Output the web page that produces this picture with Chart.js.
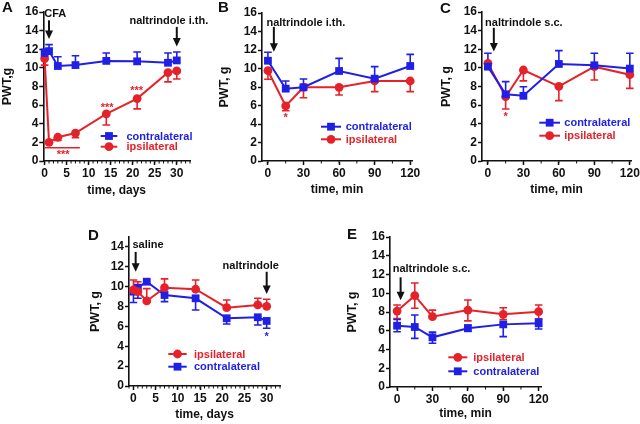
<!DOCTYPE html>
<html>
<head>
<meta charset="utf-8">
<script src="https://cdn.jsdelivr.net/npm/chart.js@4.4.1/dist/chart.umd.min.js"></script>
<style>
  html, body { margin: 0; padding: 0; background: #fff; }
  #wrap { position: relative; width: 640px; height: 424px; }
  #wrap canvas { position: absolute; left: 0; top: 0; }
</style>
</head>
<body>
<div id="wrap">
  <canvas id="panelA" width="640" height="424"></canvas>
  <canvas id="panelB" width="640" height="424"></canvas>
  <canvas id="panelC" width="640" height="424"></canvas>
  <canvas id="panelD" width="640" height="424"></canvas>
  <canvas id="panelE" width="640" height="424"></canvas>
</div>
<script>
const FONT = "'Liberation Sans', Arial, Helvetica, sans-serif";
const BLUE = '#1f1fe6';
const RED = '#e5222a';
const BLACK = '#111';

// A - CFA time course (days)
const aDays = [0, 1, 3, 7, 14, 21, 28, 30];
const aContra = [11.6, 11.8, 10.2, 10.3, 10.75, 10.7, 10.55, 10.8];
const aContraHi = [12.0, 12.5, 11.2, 11.3, 11.6, 11.7, 11.6, 11.7];
const aIpsi = [11.0, 2.0, 2.55, 3.0, 5.05, 6.7, 9.5, 9.67];
const aIpsiLo = [10.3, null, 2.2, 2.5, 3.87, 5.6, 8.5, 8.8];

// B - naltrindole i.th. (min)
const bMin = [0, 15, 30, 60, 90, 120];
const bContra = [10.84, 7.82, 7.97, 9.73, 8.9, 10.27];
const bContraHi = [11.75, 8.65, 8.86, 11.1, 10.2, 11.53];
const bIpsi = [9.76, 5.95, 7.97, 7.97, 8.65, 8.65];
const bIpsiLo = [8.83, 5.44, 6.84, 7.14, 7.5, 7.5];

// C - naltrindole s.c. (min)
const cMin = [0, 15, 30, 60, 90, 120];
const cContra = [10.13, 7.16, 7.0, 10.42, 10.28, 9.92];
const cContraHi = [11.57, 8.52, 7.98, 11.85, 11.57, 11.57];
const cIpsi = [10.49, 6.9, 9.77, 8.02, 10.13, 9.27];
const cIpsiLo = [null, 5.58, 8.6, 6.48, 8.7, 7.8];

// D - saline time course (days)
const dDays = [0, 1, 3, 7, 14, 21, 28, 30];
const dIpsi = [9.67, 9.5, 8.56, 9.9, 9.74, 7.89, 8.16, 8.02];
const dIpsiHi = [10.67, 10.5, 9.8, 10.78, 10.67, 8.66, 8.83, 8.73];
const dContra = [9.5, 9.9, 10.5, 9.16, 8.83, 6.82, 6.92, 6.55];
const dContraLo = [8.4, 8.83, null, 8.49, 7.65, 6.24, 6.14, 5.81];

// E - naltrindole s.c. after saline (min)
const eMin = [0, 15, 30, 60, 90, 120];
const eIpsi = [8.1, 9.74, 7.5, 8.2, 7.75, 8.03];
const eIpsiHi = [8.75, 11.1, 8.2, 9.28, 8.46, 8.75];
const eIpsiLo = [7.3, 8.4, null, 7.05, 7.2, 7.25];
const eContra = [6.54, 6.4, 5.3, 6.26, 6.68, 6.79];
const eContraHi = [7.2, 7.68, 5.85, 6.6, null, 7.25];
const eContraLo = [5.9, 5.19, 4.66, 5.97, 5.37, 6.19];

const contra = (x, y, hi, lo) => ({label: 'contralateral', color: BLUE, style: 'rect', x, y, hi, lo});
const ipsi = (x, y, hi, lo) => ({label: 'ipsilateral', color: RED, style: 'circle', x, y, hi, lo});

function drawErrorBars(chart) {
  const ctx = chart.ctx;
  const xs = chart.scales.x, ys = chart.scales.y;
  chart.data.datasets.forEach(ds => {
    ctx.save();
    ctx.strokeStyle = ds.borderColor;
    ctx.lineWidth = 1.6;
    ds.data.forEach((p, i) => {
      const px = xs.getPixelForValue(p.x);
      const py = ys.getPixelForValue(p.y);
      [ds.errHi, ds.errLo].forEach(arr => {
        if (!arr || arr[i] == null) return;
        const ey = ys.getPixelForValue(arr[i]);
        ctx.beginPath();
        ctx.moveTo(px, py);
        ctx.lineTo(px, ey);
        ctx.moveTo(px - 3.8, ey);
        ctx.lineTo(px + 3.8, ey);
        ctx.stroke();
      });
    });
    ctx.restore();
  });
}

function drawMarker(ctx, style, x, y, color) {
  ctx.fillStyle = color;
  ctx.beginPath();
  if (style === 'rect') ctx.rect(x - 3.9, y - 3.9, 7.8, 7.8);
  else ctx.arc(x, y, 4.4, 0, Math.PI * 2);
  ctx.fill();
}

function decoPlugin(p) {
  return {
    id: 'deco',
    beforeDatasetsDraw(chart) { drawErrorBars(chart); },
    afterDraw(chart) {
      const ctx = chart.ctx;
      const xs = chart.scales.x, ys = chart.scales.y;
      ctx.save();

      // minor ticks on x axis
      ctx.strokeStyle = BLACK;
      ctx.lineWidth = 1;
      const base = chart.chartArea.bottom;
      for (let v = Math.ceil(xs.min / p.minor) * p.minor; v <= xs.max; v += p.minor) {
        const px = xs.getPixelForValue(v);
        ctx.beginPath();
        ctx.moveTo(px, base);
        ctx.lineTo(px, base + 2.5);
        ctx.stroke();
      }

      // arrows
      ctx.fillStyle = BLACK;
      ctx.strokeStyle = BLACK;
      (p.arrows || []).forEach(a => {
        const px = xs.getPixelForValue(a.x);
        const y1 = ys.getPixelForValue(a.y1);
        const y2 = ys.getPixelForValue(a.y2);
        ctx.lineWidth = 2;
        ctx.beginPath();
        ctx.moveTo(px, y1);
        ctx.lineTo(px, y2 - 6);
        ctx.stroke();
        ctx.beginPath();
        ctx.moveTo(px - 4, y2 - 8.5);
        ctx.lineTo(px + 4, y2 - 8.5);
        ctx.lineTo(px, y2);
        ctx.closePath();
        ctx.fill();
      });

      // significance bars
      (p.bars || []).forEach(b => {
        ctx.strokeStyle = b.color;
        ctx.lineWidth = 1.5;
        ctx.beginPath();
        ctx.moveTo(xs.getPixelForValue(b.x1), ys.getPixelForValue(b.y));
        ctx.lineTo(xs.getPixelForValue(b.x2), ys.getPixelForValue(b.y));
        ctx.stroke();
      });

      // text notes
      ctx.textAlign = 'center';
      ctx.textBaseline = 'middle';
      (p.notes || []).forEach(n => {
        ctx.fillStyle = n.color || BLACK;
        ctx.font = 'bold ' + (n.size || 11) + 'px ' + FONT;
        ctx.fillText(n.text, xs.getPixelForValue(n.x), ys.getPixelForValue(n.y));
      });

      // legend
      const lg = p.legend;
      ctx.font = 'bold 11px ' + FONT;
      ctx.textAlign = 'left';
      lg.rows.forEach(r => {
        const s = p.series[r.s];
        ctx.strokeStyle = s.color;
        ctx.lineWidth = 2;
        ctx.beginPath();
        ctx.moveTo(lg.x1, r.y);
        ctx.lineTo(lg.x2, r.y);
        ctx.stroke();
        drawMarker(ctx, s.style, (lg.x1 + lg.x2) / 2, r.y, s.color);
        ctx.fillStyle = s.color;
        ctx.fillText(s.label, lg.tx, r.y + 0.5);
      });

      // panel letter
      ctx.fillStyle = BLACK;
      ctx.font = 'bold 15px ' + FONT;
      ctx.fillText(p.letter.text, p.letter.x, p.letter.y);
      ctx.restore();
    }
  };
}

function makePanel(id, p) {
  const lhY = 12.5 * 1.2, lhX = 12 * 1.2;
  const padL = p.yTitleX - lhY / 2;
  const padB = 424 - p.xTitleY - lhX / 2;
  const yW = p.area.l - padL;
  const xH = 424 - padB - p.area.b;
  const tickFont = {family: FONT, size: 12, weight: 'bold'};

  const datasets = p.series.map(s => ({
    label: s.label,
    data: s.x.map((x, i) => ({x: x, y: s.y[i]})),
    errHi: s.hi,
    errLo: s.lo,
    borderColor: s.color,
    backgroundColor: s.color,
    borderWidth: 2,
    pointStyle: s.style,
    pointRadius: s.style === 'rect' ? 5.5 : 4.4,
    pointBorderWidth: 0,
    clip: false
  }));

  return new Chart(document.getElementById(id), {
    type: 'line',
    data: {datasets: datasets},
    options: {
      responsive: false,
      animation: false,
      events: [],
      layout: {padding: {left: padL, top: p.area.t, right: 640 - p.area.r, bottom: padB}},
      plugins: {legend: {display: false}, tooltip: {enabled: false}},
      scales: {
        x: {
          type: 'linear',
          min: p.xMin,
          max: p.xMax,
          ticks: {stepSize: p.xStep, includeBounds: false, color: BLACK, font: tickFont, padding: 1, maxRotation: 0, autoSkip: false},
          grid: {drawOnChartArea: false, drawTicks: true, tickLength: 4, tickWidth: 1.5, tickColor: BLACK},
          border: {display: true, color: BLACK, width: 1.6},
          title: {display: true, text: p.xTitle, color: BLACK, font: {family: FONT, size: 12, weight: 'bold'}, padding: 0},
          afterFit: s => { s.height = xH; s.paddingLeft = 0; s.paddingRight = 0; }
        },
        y: {
          min: 0,
          max: p.yMax,
          ticks: {stepSize: 2, includeBounds: false, color: BLACK, font: tickFont, padding: 1},
          grid: {drawOnChartArea: false, drawTicks: true, tickLength: 4, tickWidth: 1.5, tickColor: BLACK},
          border: {display: true, color: BLACK, width: 1.6},
          title: {display: true, text: p.yTitle, color: BLACK, font: {family: FONT, size: 12.5, weight: 'bold'}, padding: 0},
          afterFit: s => { s.width = yW; s.paddingTop = 0; s.paddingBottom = 0; }
        }
      }
    },
    plugins: [decoPlugin(p)]
  });
}

// Panel A
const seriesA = [contra(aDays, aContra, aContraHi, null), ipsi(aDays, aIpsi, null, aIpsiLo)];
makePanel('panelA', {
  area: {l: 43.3, t: 12, r: 190, b: 161}, yTitleX: 8, xTitleY: 191,
  xMin: -0.3, xMax: 33, xStep: 5, minor: 1, yMax: 16,
  yTitle: 'PWT,g', xTitle: 'time, days',
  series: seriesA,
  legend: {x1: 100.7, x2: 117.3, tx: 126.5, rows: [{s: 0, y: 136}, {s: 1, y: 146.7}]},
  notes: [
    {text: 'CFA', x: 2.4, y: 15.8},
    {text: 'naltrindole i.th.', x: 28.2, y: 15.0},
    {text: '***', x: 14.2, y: 5.7, color: RED},
    {text: '***', x: 20.9, y: 7.5, color: RED},
    {text: '***', x: 4.2, y: 0.65, color: RED}
  ],
  bars: [{x1: 0, x2: 8, y: 1.43, color: RED}],
  arrows: [{x: 1, y1: 15.1, y2: 13.1}, {x: 30, y1: 14.4, y2: 12.3}],
  letter: {text: 'A', x: 2, y: 8}
});

// Panel B
const seriesB = [contra(bMin, bContra, bContraHi, null), ipsi(bMin, bIpsi, null, bIpsiLo)];
makePanel('panelB', {
  area: {l: 262, t: 13, r: 412, b: 161}, yTitleX: 224.5, xTitleY: 190,
  xMin: -5, xMax: 121.5, xStep: 30, minor: 15, yMax: 16,
  yTitle: 'PWT, g', xTitle: 'time, min',
  series: seriesB,
  legend: {x1: 321, x2: 341, tx: 345.7, rows: [{s: 0, y: 126.7}, {s: 1, y: 139.3}]},
  notes: [
    {text: 'naltrindole i.th.', x: 32, y: 14.95},
    {text: '*', x: 15, y: 4.6, color: RED}
  ],
  arrows: [{x: 5, y1: 14.5, y2: 11.8}],
  letter: {text: 'B', x: 218, y: 8}
});

// Panel C
const seriesC = [contra(cMin, cContra, cContraHi, null), ipsi(cMin, cIpsi, null, cIpsiLo)];
makePanel('panelC', {
  area: {l: 482, t: 12, r: 631, b: 161}, yTitleX: 447, xTitleY: 190,
  xMin: -5, xMax: 121, xStep: 30, minor: 15, yMax: 16,
  yTitle: 'PWT, g', xTitle: 'time, min',
  series: seriesC,
  legend: {x1: 539.3, x2: 560, tx: 564.3, rows: [{s: 0, y: 122.7}, {s: 1, y: 135.7}]},
  notes: [
    {text: 'naltrindole s.c.', x: 30.4, y: 14.8},
    {text: '*', x: 15, y: 4.7, color: RED}
  ],
  arrows: [{x: 5, y1: 14.3, y2: 11.75}],
  letter: {text: 'C', x: 440, y: 9}
});

// Panel D
const seriesD = [ipsi(dDays, dIpsi, dIpsiHi, null), contra(dDays, dContra, null, dContraLo)];
makePanel('panelD', {
  area: {l: 129, t: 237, r: 280, b: 386}, yTitleX: 96, xTitleY: 415,
  xMin: -1, xMax: 33, xStep: 5, minor: 1, yMax: 15,
  yTitle: 'PWT, g', xTitle: 'time, days',
  series: seriesD,
  legend: {x1: 168.3, x2: 186.7, tx: 194, rows: [{s: 0, y: 354}, {s: 1, y: 366.7}]},
  notes: [
    {text: 'saline', x: 3.3, y: 14.2},
    {text: 'naltrindole', x: 26.4, y: 12.1},
    {text: '*', x: 30, y: 4.9, color: BLUE}
  ],
  arrows: [{x: 0.5, y1: 13.5, y2: 11.5}, {x: 30, y1: 11.5, y2: 9.26}],
  letter: {text: 'D', x: 88, y: 236}
});

// Panel E
const seriesE = [ipsi(eMin, eIpsi, eIpsiHi, eIpsiLo), contra(eMin, eContra, eContraHi, eContraLo)];
makePanel('panelE', {
  area: {l: 390, t: 237, r: 541, b: 387}, yTitleX: 353, xTitleY: 414,
  xMin: -6, xMax: 122, xStep: 30, minor: 15, yMax: 16,
  yTitle: 'PWT, g', xTitle: 'time, min',
  series: seriesE,
  legend: {x1: 448.3, x2: 467.3, tx: 473.3, rows: [{s: 0, y: 357.3}, {s: 1, y: 371.3}]},
  notes: [
    {text: 'naltrindole s.c.', x: 29.2, y: 12.6}
  ],
  arrows: [{x: 3, y1: 11.7, y2: 9.25}],
  letter: {text: 'E', x: 347, y: 235}
});
</script>
</body>
</html>
